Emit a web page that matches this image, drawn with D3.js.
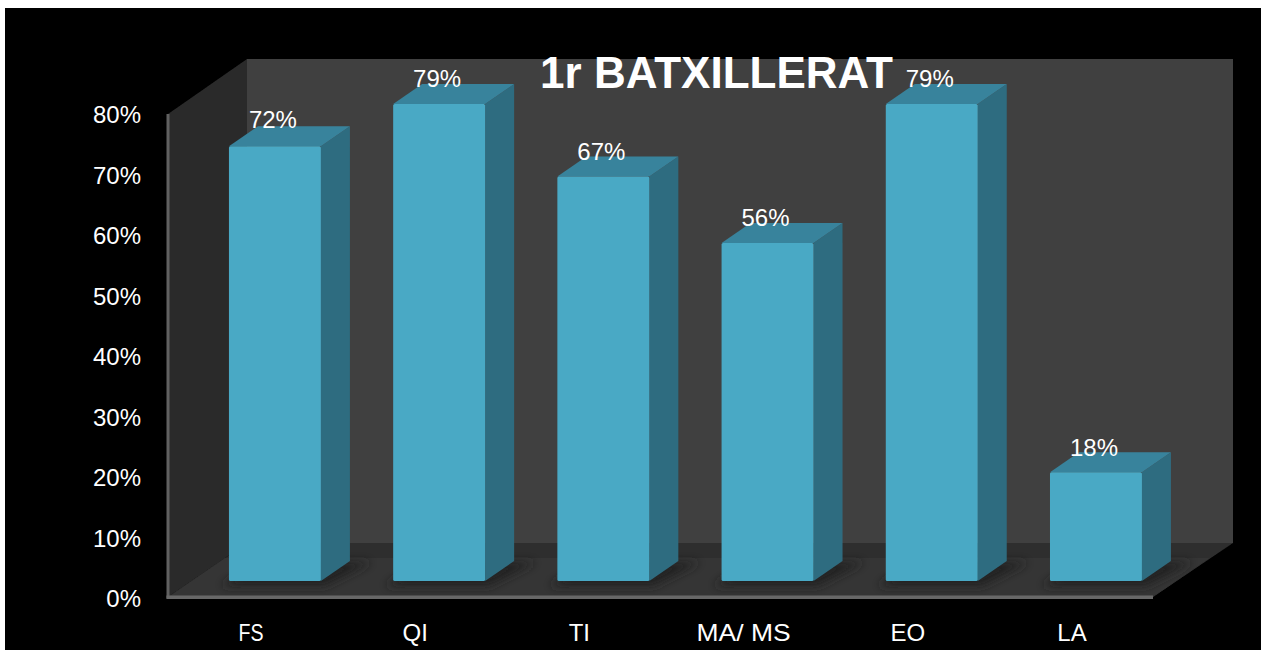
<!DOCTYPE html>
<html><head><meta charset="utf-8">
<script src="https://cdnjs.cloudflare.com/ajax/libs/d3/7.8.5/d3.min.js"></script>
<style>html,body{margin:0;padding:0;background:#fff;overflow:hidden}svg{display:block}text{font-family:"Liberation Sans",Arial,sans-serif;fill:#fff}</style>
</head><body><div id="c"></div>
<script>
const categories=["FS","QI","TI","MA/ MS","EO","LA"];
const values=[72,79,67,56,79,18];
const valueLabels=["72%","79%","67%","56%","79%","18%"];
const yTicks=[0,10,20,30,40,50,60,70,80];
const chartTitle="1r BATXILLERAT";
const W=1267,H=650,depthX=79,depthY=54,barDX=29,barDY=20,planeLift=16;
const svg=d3.select("#c").append("svg").attr("width",W).attr("height",H);
const defs=svg.append("defs");
const soft=defs.append("filter").attr("id","soft").attr("filterUnits","userSpaceOnUse").attr("x",0).attr("y",500).attr("width",W).attr("height",150);
soft.append("feGaussianBlur").attr("stdDeviation",5);
defs.append("filter").attr("id","aa").append("feGaussianBlur").attr("stdDeviation",0.45);
defs.append("clipPath").attr("id","floorClip").append("polygon").attr("points","168,597 247,543 1233,543 1153,597");
svg.append("rect").attr("x",5).attr("y",8).attr("width",1256).attr("height",642).attr("fill","#000");
const y=d3.scaleLinear().domain([0,80]).range([597,114]);
const yLabels=y.copy().range([598,114]);
const x=d3.scaleBand().domain(categories).range([168.2,1202.7]).paddingInner(0.44).paddingOuter(0.37).align(0.5);
const L=168,R=1153,B=y(0),T=y(80);
const pts=a=>a.map(p=>p.join(",")).join(" ");
const walls=svg.append("g").attr("filter","url(#aa)");
walls.append("polygon").attr("points",pts([[L+depthX,T-depthY-1],[R+depthX+1,T-depthY-1],[R+depthX+1,B-depthY],[L+depthX,B-depthY]])).attr("fill","#3f3f3f");
walls.append("polygon").attr("points",pts([[L,T],[L+depthX,T-depthY-1],[L+depthX,B-depthY],[L,B]])).attr("fill","#2a2a2a");
walls.append("polygon").attr("points",pts([[L,B],[L+depthX,B-depthY],[R+depthX+1,B-depthY],[R,B]])).attr("fill","#2e2e2e");
walls.append("polygon").attr("points",pts([[L,B],[L+depthX*0.72,B-depthY*0.72],[R+depthX*0.72,B-depthY*0.72],[R,B]])).attr("fill","#343434");
// shadows on the floor
svg.append("g").attr("clip-path","url(#floorClip)").append("g").attr("filter","url(#soft)").selectAll("polygon").data(categories).join("polygon")
 .attr("points",d=>{const a=x(d),b=a+x.bandwidth();const f=y(0)-planeLift+5;return pts([[a-8,f],[b+4,f],[b+barDX+22,f-barDY-4],[a+barDX,f-barDY-4]]);})
 .attr("fill","#222");
svg.append("rect").attr("x",L-1.5).attr("y",T).attr("width",3).attr("height",B-T+1.5).attr("fill","#616161").attr("filter","url(#aa)");
svg.append("rect").attr("x",L-1.5).attr("y",B-1.5).attr("width",R-L+1.5).attr("height",3.5).attr("fill","#686868").attr("filter","url(#aa)");
// bars
const bars=svg.append("g").attr("filter","url(#aa)").selectAll("g").data(categories).join("g");
const barTop=(i)=>y(values[i])-planeLift, barBot=y(0)-planeLift;
bars.append("polygon").attr("points",(d,i)=>{const b=x(d)+x.bandwidth();return pts([[b,barTop(i)],[b+barDX,barTop(i)-barDY],[b+barDX,barBot-barDY],[b,barBot]]);}).attr("fill","#2f6c80");
bars.append("polygon").attr("points",(d,i)=>{const a=x(d),b=a+x.bandwidth();return pts([[a,barTop(i)],[a+barDX,barTop(i)-barDY],[b+barDX,barTop(i)-barDY],[b,barTop(i)]]);}).attr("fill","#38839c");
bars.append("rect").attr("x",d=>x(d)).attr("y",(d,i)=>barTop(i)).attr("width",x.bandwidth()).attr("height",(d,i)=>barBot-barTop(i)).attr("rx",1.5).attr("fill","#49a9c5");
// data labels
svg.append("g").selectAll("text").data(valueLabels).join("text")
 .attr("x",(d,i)=>x(categories[i])+x.bandwidth()/2-2).attr("y",(d,i)=>barTop(i)-(d==="72%"?27:25)).attr("dy","0.35em")
 .attr("text-anchor","middle").attr("font-size",24).text(d=>d);
// axes
const yAxis=d3.axisLeft(yLabels).tickValues(yTicks).tickFormat(d=>d+"%").tickSize(0).tickPadding(0);
const gy=svg.append("g").attr("transform","translate(141,1)").call(yAxis);
gy.select(".domain").remove();
gy.selectAll("text").attr("font-size",24).attr("font-family",'"Liberation Sans",Arial,sans-serif').attr("fill","#fff");
const xAxis=d3.axisBottom(x).tickSize(0).tickPadding(0);
const gx=svg.append("g").attr("transform","translate(-24,624)").call(xAxis);
gx.select(".domain").remove();
gx.selectAll("text").attr("font-size",24).attr("font-family",'"Liberation Sans",Arial,sans-serif').attr("fill","#fff")
 .filter(d=>d==="MA/ MS"||d==="FS")
 .attr("textLength",d=>d==="FS"?25:94).attr("lengthAdjust","spacingAndGlyphs");
// title
svg.append("text").attr("x",716.5).attr("y",73).attr("dy","0.35em").attr("text-anchor","middle").attr("font-size",44).attr("font-weight","bold").text(chartTitle);
</script></body></html>
